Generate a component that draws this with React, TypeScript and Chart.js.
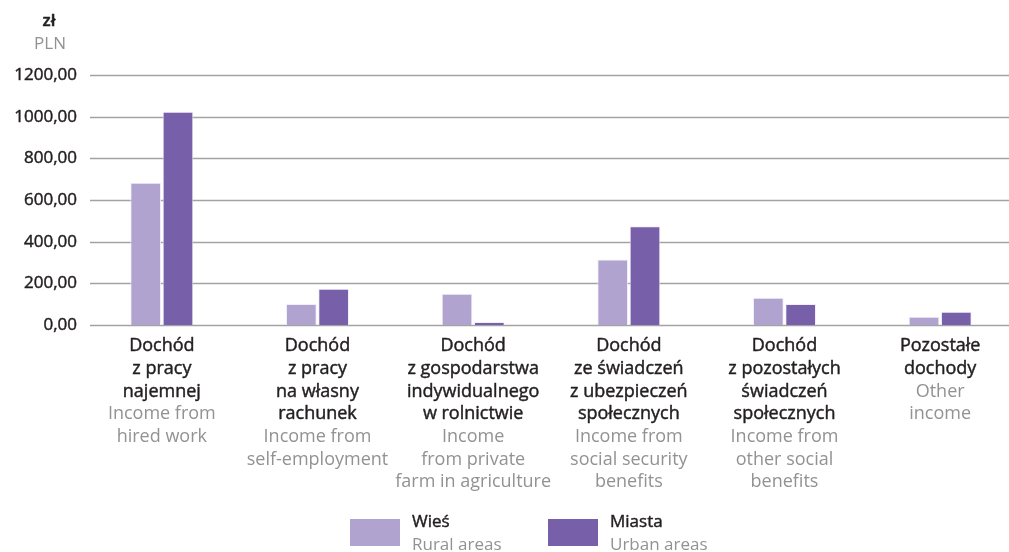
import React, { useEffect, useRef } from "react";
import { Chart, registerables } from "chart.js";

Chart.register(...registerables);

const categoriesPl: string[][] = [
  ["Dochód", "z pracy", "najemnej"],
  ["Dochód", "z pracy", "na własny", "rachunek"],
  ["Dochód", "z gospodarstwa", "indywidualnego", "w rolnictwie"],
  ["Dochód", "ze świadczeń", "z ubezpieczeń", "społecznych"],
  ["Dochód", "z pozostałych", "świadczeń", "społecznych"],
  ["Pozostałe", "dochody"],
];
const categoriesEn: string[][] = [
  ["Income from", "hired work"],
  ["Income from", "self-employment"],
  ["Income", "from private", "farm in agriculture"],
  ["Income from", "social security", "benefits"],
  ["Income from", "other social", "benefits"],
  ["Other", "income"],
];
const ruralValues = [683, 101, 150, 315, 131, 40];
const urbanValues = [1024, 174, 14, 474, 101, 64];
const seriesPl = ["Wieś", "Miasta"];
const seriesEn = ["Rural areas", "Urban areas"];
const unitPl = "zł";
const unitEn = "PLN";
const yMin = 0;
const yMax = 1200;
const yStep = 200;

const RURAL = "#b0a3cf";
const URBAN = "#7760a9";
const DARK = "#231f20";
const GREY = "#929292";
const FONT = "'Open Sans', 'Noto Sans', sans-serif";

const fmt = (v: number) => v.toFixed(2).replace(".", ",");

export default function App() {
  const ref = useRef<HTMLCanvasElement | null>(null);

  useEffect(() => {
    if (!ref.current) return;

    const gridPlugin = {
      id: "customGrid",
      beforeDatasetsDraw(chart: any) {
        const ctx = chart.ctx;
        const y = chart.scales.y;
        ctx.save();
        ctx.strokeStyle = "#a3a3a3";
        ctx.lineWidth = 1.6;
        for (let v = yMin; v <= yMax; v += yStep) {
          const py = Math.round(y.getPixelForValue(v)) + 0.5;
          ctx.beginPath();
          ctx.moveTo(90, py);
          ctx.lineTo(1009, py);
          ctx.stroke();
        }
        ctx.restore();
      },
    };

    const textPlugin = {
      id: "customText",
      afterDraw(chart: any) {
        const ctx = chart.ctx;
        const x = chart.scales.x;
        ctx.save();
        ctx.textAlign = "center";
        ctx.textBaseline = "middle";
        ctx.lineJoin = "round";
        const lh = 22.7;
        const darkText = (t: string, px: number, py: number) => {
          ctx.fillStyle = DARK;
          ctx.strokeStyle = DARK;
          ctx.lineWidth = 0.45;
          ctx.fillText(t, px, py);
          ctx.strokeText(t, px, py);
        };
        categoriesPl.forEach((lines, i) => {
          const cx = x.getPixelForValue(i);
          let yy = 346;
          ctx.font = `18px ${FONT}`;
          lines.forEach((l) => {
            darkText(l, cx, yy);
            yy += lh;
          });
          ctx.fillStyle = GREY;
          categoriesEn[i].forEach((l) => {
            ctx.fillText(l, cx, yy);
            yy += lh;
          });
        });

        // unit
        ctx.font = `600 17px ${FONT}`;
        darkText(unitPl, 49, 21);
        ctx.font = `17px ${FONT}`;
        ctx.fillStyle = GREY;
        ctx.fillText(unitEn, 50, 44);

        // legend
        const colors = [RURAL, URBAN];
        const swX = [350, 548];
        ctx.textAlign = "left";
        seriesPl.forEach((name, i) => {
          ctx.fillStyle = colors[i];
          ctx.fillRect(swX[i], 519, 50, 27);
          ctx.font = `17px ${FONT}`;
          darkText(name, swX[i] + 62, 522);
          ctx.fillStyle = GREY;
          ctx.fillText(seriesEn[i], swX[i] + 62, 545);
        });
        ctx.restore();
      },
    };

    const chart = new Chart(ref.current, {
      type: "bar",
      data: {
        labels: categoriesPl.map((c) => c.join(" ")),
        datasets: [
          {
            label: seriesPl[0],
            data: ruralValues,
            backgroundColor: RURAL,
            borderColor: "rgba(240,236,248,0.9)",
            borderWidth: 1,
            barPercentage: 0.95,
            categoryPercentage: 0.415,
          },
          {
            label: seriesPl[1],
            data: urbanValues,
            backgroundColor: URBAN,
            borderColor: "rgba(240,236,248,0.9)",
            borderWidth: 1,
            barPercentage: 0.95,
            categoryPercentage: 0.415,
          },
        ],
      },
      options: {
        responsive: false,
        animation: false,
        layout: { padding: { top: 75, bottom: 227, right: 12, left: 0 } },
        plugins: {
          legend: { display: false },
          tooltip: { enabled: false },
        },
        scales: {
          x: {
            display: false,
            offset: true,
            grid: { display: false },
          },
          y: {
            min: yMin,
            max: yMax,
            border: { display: false },
            grid: { display: false, drawTicks: false },
            afterFit: (scale: any) => {
              scale.width = 84;
            },
            ticks: {
              stepSize: yStep,
              padding: 7,
              color: DARK,
              textStrokeColor: DARK,
              textStrokeWidth: 0.45,
              font: { family: FONT, size: 17 },
              callback: (v: any) => fmt(Number(v)),
            },
          },
        },
      },
      plugins: [gridPlugin, textPlugin],
    });

    return () => chart.destroy();
  }, []);

  return (
    <div
      style={{
        position: "absolute",
        left: 0,
        top: 0,
        width: 1009,
        height: 552,
        overflow: "hidden",
        background: "#fff",
      }}
    >
      <canvas ref={ref} width={1030} height={552} style={{ display: "block" }} />
    </div>
  );
}
